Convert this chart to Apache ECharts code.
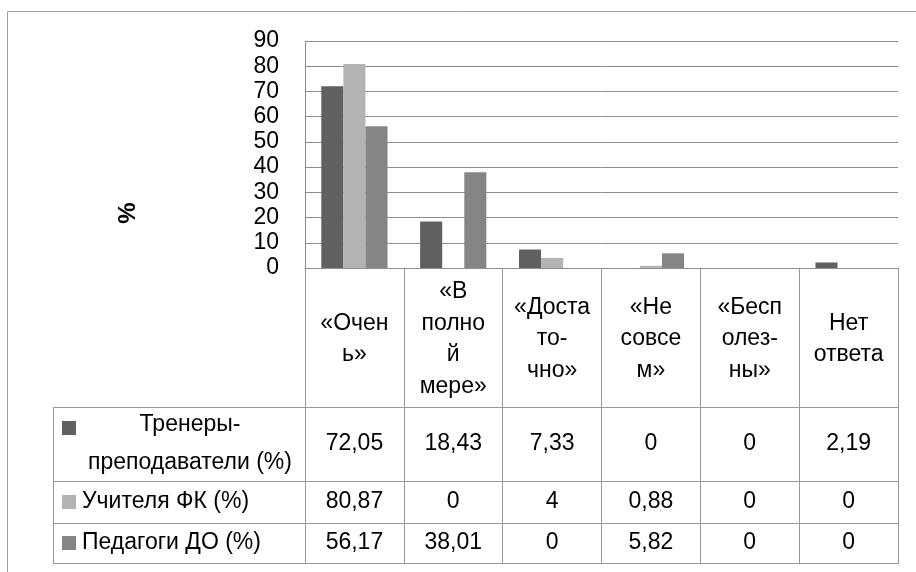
<!DOCTYPE html>
<html>
<head>
<meta charset="utf-8">
<title>chart</title>
<script src="https://cdn.jsdelivr.net/npm/echarts@6/dist/echarts.min.js"></script>
<style>
	html, body { margin: 0; padding: 0; background: #fff; }
	#chart { width: 916px; height: 572px; }
</style>
</head>
<body>
<div id="chart"></div>
<script>
// data
var categories = ['«Очен\nь»', '«В\nполно\nй\nмере»', '«Доста\nто-\nчно»', '«Не\nсовсе\nм»', '«Бесп\nолез-\nны»', 'Нет\nответа'];
var seriesNames = ['Тренеры-\nпреподаватели (%)', 'Учителя ФК (%)', 'Педагоги ДО (%)'];
var trainers = [72.05, 18.43, 7.33, 0, 0, 2.19];
var teachersPE = [80.87, 0, 4, 0.88, 0, 0];
var teachersDO = [56.17, 38.01, 0, 5.82, 0, 0];
var yMin = 0, yMax = 90, yStep = 10;
var axisName = '%';

var values = [trainers, teachersPE, teachersDO];
var colors = ['#606060', '#b3b3b3', '#858585'];
var font = 'Liberation Sans';
var gridColor = '#8c8c8c';
var lineColor = '#999999';

// layout of the table under the plot
var axisY = 268;
var tableLeft = 53, tableRight = 898;
var rowLines = [407, 481, 523, 563];
var rowCenters = [444, 502, 543];

function fmt(v) {
	return String(v).replace('.', ',');
}

var chart = echarts.init(document.getElementById('chart'), null, { renderer: 'canvas' });

var xAxes = [{
	type: 'category',
	data: categories,
	position: 'bottom',
	axisLine: { show: true, lineStyle: { color: gridColor } },
	axisTick: { show: true, interval: 0, alignWithLabel: false, length: rowLines[3] - axisY, lineStyle: { color: lineColor } },
	axisLabel: { interval: 0, margin: 71, verticalAlign: 'middle', fontSize: 23, lineHeight: 31.5, color: '#000', fontFamily: font }
}];
values.forEach(function (arr, k) {
	xAxes.push({
		type: 'category',
		data: categories,
		position: 'bottom',
		axisLine: { show: false },
		axisTick: { show: false },
		axisLabel: {
			interval: 0,
			margin: rowCenters[k] - axisY,
			verticalAlign: 'middle',
			fontSize: 23,
			color: '#000',
			fontFamily: font,
			formatter: function (v, i) { return fmt(arr[i]); }
		}
	});
});

var graphic = [{
	type: 'rect',
	shape: { x: 7.5, y: 11.5, width: 1200, height: 1200 },
	style: { fill: 'none', stroke: '#a0a0a0', lineWidth: 1 },
	silent: true
}];
rowLines.forEach(function (y) {
	graphic.push({
		type: 'line',
		shape: { x1: tableLeft, y1: y + 0.5, x2: tableRight + 1, y2: y + 0.5 },
		style: { stroke: lineColor, lineWidth: 1 }
	});
});
graphic.push({
	type: 'line',
	shape: { x1: tableLeft + 0.5, y1: rowLines[0], x2: tableLeft + 0.5, y2: rowLines[3] + 1 },
	style: { stroke: lineColor, lineWidth: 1 }
});
// legend keys in the table
graphic.push({ type: 'rect', shape: { x: 62, y: 421, width: 14, height: 14 }, style: { fill: colors[0] } });
graphic.push({
	type: 'text', x: 190, y: rowCenters[0],
	style: { text: seriesNames[0], fontSize: 23, fontFamily: font, fill: '#000', align: 'center', verticalAlign: 'middle', lineHeight: 38 }
});
for (var k = 1; k < 3; k++) {
	graphic.push({ type: 'rect', shape: { x: 62, y: rowCenters[k] - 7, width: 14, height: 14 }, style: { fill: colors[k] } });
	graphic.push({
		type: 'text', x: 82, y: rowCenters[k],
		style: { text: seriesNames[k], fontSize: 23, fontFamily: font, fill: '#000', align: 'left', verticalAlign: 'middle' }
	});
}
graphic.push({
	type: 'text', x: 128, y: 213, rotation: Math.PI / 2,
	style: { text: axisName, fontSize: 24, fontWeight: 'bold', fontFamily: font, fill: '#000', align: 'center', verticalAlign: 'middle' }
});

var option = {
	animation: false,
	textStyle: { fontFamily: font },
	grid: { left: 305, right: 18, top: 41, bottom: 572 - axisY, containLabel: false, outerBoundsMode: 'none' },
	xAxis: xAxes,
	yAxis: {
		type: 'value',
		min: yMin,
		max: yMax,
		interval: yStep,
		axisLine: { show: true, lineStyle: { color: gridColor } },
		axisTick: { show: false },
		splitLine: { show: true, lineStyle: { color: gridColor } },
		axisLabel: { margin: 26, fontSize: 23, color: '#000', fontFamily: font }
	},
	series: values.map(function (arr, k) {
		return {
			name: seriesNames[k],
			type: 'bar',
			xAxisIndex: 0,
			data: arr,
			barGap: '0%',
			barCategoryGap: '33%',
			itemStyle: { color: colors[k] }
		};
	}),
	graphic: graphic
};
chart.setOption(option);
</script>
</body>
</html>
